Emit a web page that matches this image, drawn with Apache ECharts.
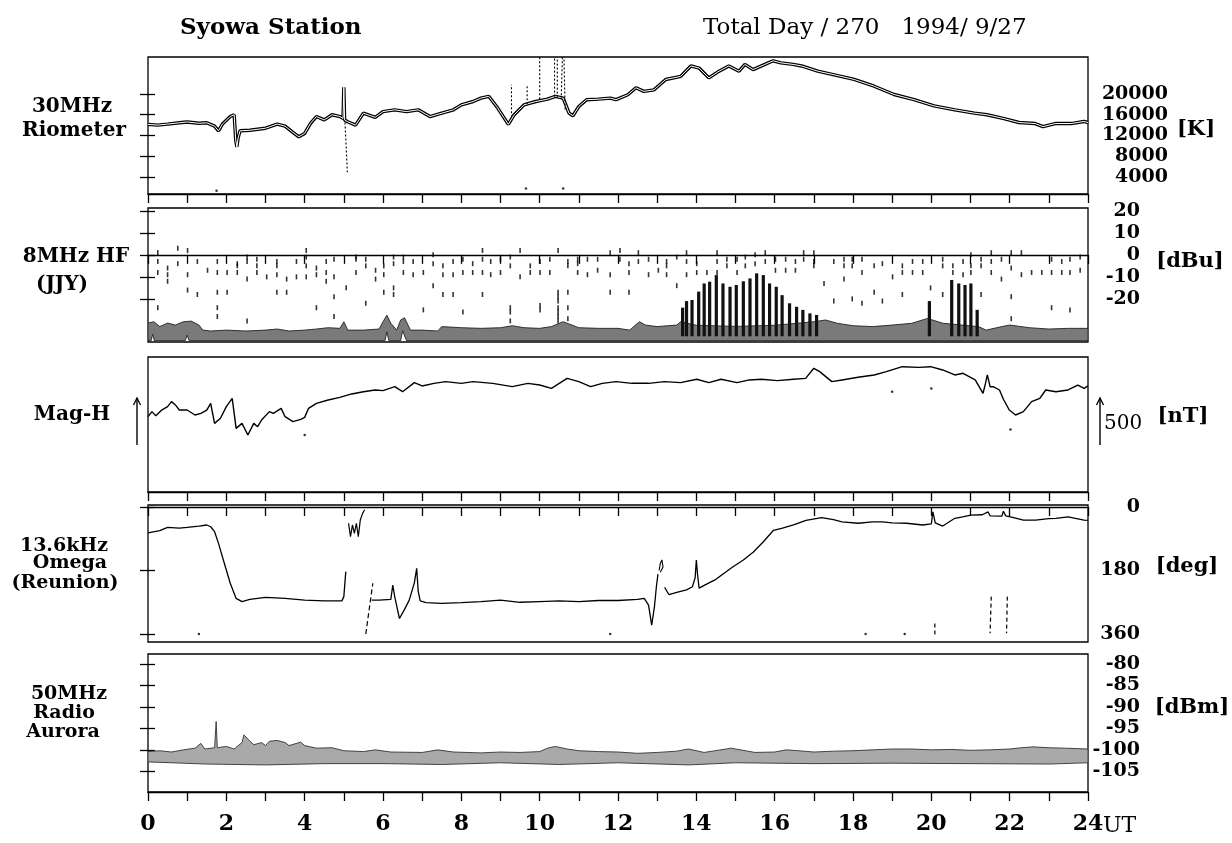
<!DOCTYPE html>
<html><head><meta charset="utf-8">
<script src="https://cdn.jsdelivr.net/npm/echarts@6/dist/echarts.min.js"></script>
<style>html,body{margin:0;padding:0;background:#fff}#c{width:1232px;height:843px}</style>
</head><body><div id="c"></div>
<script>
// ---------------- DATA ----------------
const xLabelHours = [0,2,4,6,8,10,12,14,16,18,20,22,24];

// 30MHz Riometer [UT hour, K]
const rioTrace = [[0,14150],[0.25,14000],[0.5,14200],[0.8,14450],[1.0,14600],[1.3,14350],[1.5,14450],[1.7,13800],[1.8,12900],[1.9,14200],[2.1,15650],[2.2,16000],[2.24,11100],[2.27,9800],[2.3,11500],[2.35,12900],[2.6,13000],[3.0,13400],[3.3,14200],[3.5,13800],[3.7,12600],[3.85,11750],[4.0,12400],[4.15,14350],[4.3,15650],[4.5,15000],[4.7,16000],[4.9,15650],[4.98,15300],[5.0,21300],[5.02,15000],[5.1,14650],[5.3,14000],[5.5,16300],[5.8,15500],[6.0,16600],[6.3,16950],[6.6,16600],[6.9,16950],[7.2,15650],[7.5,16300],[7.8,16950],[8.0,17900],[8.3,18550],[8.5,19200],[8.7,19550],[8.9,17600],[9.1,15300],[9.2,14150],[9.35,16000],[9.6,17900],[9.9,18550],[10.2,19000],[10.4,19550],[10.6,19200],[10.75,16300],[10.85,15800],[11.0,17600],[11.2,18900],[11.5,19000],[11.8,19200],[11.95,18900],[12.25,19850],[12.46,21200],[12.66,20500],[12.92,20800],[13.22,22800],[13.6,23400],[13.86,25400],[14.07,25000],[14.32,23100],[14.58,24400],[14.83,25400],[15.09,24400],[15.24,25700],[15.45,24700],[15.75,25700],[15.96,26400],[16.16,26000],[16.47,25700],[16.69,25400],[17.1,24400],[17.52,23700],[18.03,22800],[18.54,21500],[19.05,19900],[19.56,18900],[20.07,17700],[20.6,16950],[21.1,16300],[21.42,16000],[21.83,15300],[22.24,14500],[22.65,14300],[22.85,13700],[23.16,14300],[23.57,14300],[23.9,14700],[24,14500]];
const rioSpikes = [[5.03,14500,5.09,4900],[9.28,15500,9.28,21800],[9.68,18000,9.68,21500],[10.0,19000,10.0,27100],[10.38,19500,10.38,27100],[10.45,19300,10.45,27100],[10.55,19000,10.58,27100],[10.65,17000,10.62,27100]];
const rioDots = [[1.75,1350],[9.65,1800],[10.6,1800]];
const rioTicks = [4000,8000,12000,16000,20000];

// 8MHz HF (JJY) [UT hour, dBu]
const hfBandTop = [[0,-31],[0.15,-30.4],[0.3,-32.6],[0.5,-31],[0.7,-31.9],[0.9,-30.4],[1.1,-30.1],[1.3,-31.9],[1.4,-34.2],[1.6,-34.6],[2.0,-34.2],[2.5,-34.6],[3.0,-34.2],[3.3,-33.7],[3.6,-34.6],[4.0,-34.2],[4.3,-33.7],[4.6,-33.1],[4.9,-33.4],[5.0,-30.4],[5.1,-34.2],[5.5,-34.2],[5.9,-33.7],[6.0,-30.4],[6.1,-27.4],[6.2,-31.1],[6.35,-34.2],[6.45,-29.6],[6.55,-28.6],[6.7,-34.2],[7.0,-34.2],[7.4,-34.6],[7.5,-32.6],[8.0,-33.1],[8.5,-33.4],[9.0,-33.1],[9.3,-32.2],[9.6,-33.1],[10.0,-33.4],[10.3,-32.6],[10.6,-30.4],[11.0,-33.1],[11.5,-33.4],[12.0,-33.4],[12.3,-34.2],[12.4,-32.6],[12.55,-30.4],[12.7,-31.9],[13.0,-32.6],[13.5,-31.9],[13.6,-30.4],[14.0,-32],[15.0,-32.5],[16.0,-32],[17.0,-30.4],[17.3,-29.6],[17.6,-31.1],[18.0,-32.2],[18.5,-32.6],[19.0,-31.9],[19.5,-31.1],[19.9,-28.9],[20.3,-31.1],[21.2,-32.6],[21.4,-34.2],[21.8,-32.6],[22.0,-31.9],[22.5,-33.1],[23.0,-33.7],[23.5,-33.4],[24,-33.4]];
const hfBandBottom = [[0,-39],[0.08,-39],[0.12,-36],[0.16,-39],[0.95,-39],[1.0,-36.5],[1.05,-39],[6.05,-39],[6.1,-35],[6.15,-39],[6.45,-39],[6.5,-34.5],[6.6,-39],[24,-39]];
const hfBursts = [[13.65,-24],[13.75,-21],[13.89,-20.5],[14.06,-16.7],[14.2,-13],[14.34,-12.2],[14.51,-9.2],[14.68,-13],[14.86,-14.5],[15.02,-13.7],[15.2,-12],[15.37,-10.7],[15.54,-8.4],[15.71,-9.2],[15.87,-13],[16.04,-14.5],[16.19,-18.3],[16.38,-22],[16.56,-23.6],[16.72,-25],[16.9,-26.6],[17.07,-27.3],[19.95,-21],[20.52,-11.4],[20.7,-13],[20.86,-13.7],[21.01,-13],[21.17,-25]];
const hfBurstBase = -37;
const hfDashCols = [[0.25,[1,-3,-8,-24]],[0.5,[-6,-9,-12]],[0.76,[3,-4]],[1.01,[2,-9,-16]],[1.26,[-3,-18]],[1.52,[-7]],[1.77,[-3,-8,-17,-24,-28]],[2.02,[-8,-17]],[2.28,[-4,-5,-8]],[2.53,[-1,-3,-11,-30]],[2.78,[-2,-5,-8]],[3.03,[-10]],[3.29,[-3,-5,-9,-17]],[3.54,[-11,-17]],[3.79,[-3,-10]],[4.04,[2,-1,-5,-10]],[4.3,[-6,-9,-24]],[4.55,[-3,-8,-12]],[4.75,[-2,-10,-19,-28]],[5.06,[-15]],[5.31,[-1,-2,-8]],[5.56,[-2,-5,-22]],[5.81,[-7,-11]],[6.02,[-5,-9,-17]],[6.27,[-1,-4,-15,-18]],[6.52,[-1,-3,-8]],[6.77,[-3,-9]],[7.03,[-8,-25]],[7.28,[0,-4,-14]],[7.53,[-5,-9,-18]],[7.79,[-3,-9,-18]],[8.04,[-2,-8,-26]],[8.29,[-4,-8]],[8.54,[2,-2,-8,-18]],[8.75,[-3,-9]],[9.0,[-2,-8]],[9.25,[-1,-5,-24,-26,-30]],[9.5,[2,-10]],[9.76,[-5,-8]],[10.01,[-3,-8,-23,-25]],[10.26,[-2,-8]],[10.47,[2,-17,-19,-21,-24,-26,-28,-30]],[10.72,[-3,-5,-17,-24,-29]],[10.97,[-2,-4,-8]],[11.22,[-2,-9]],[11.48,[-2,-7]],[11.8,[1,-9,-17]],[12.05,[2,-2]],[12.28,[-4,-8,-17]],[12.52,[1,-3]],[12.78,[-2,-9]],[13.03,[-7]],[13.24,[-3,-5,-9]],[13.5,[-1,-14]],[13.75,[1,-3,-9]],[14.01,[-4,-8]],[14.27,[-8]],[14.53,[1,-3,-8]],[14.78,[-2,-5]],[15.04,[-2,-8]],[15.25,[-1,-5]],[15.5,[0,-4]],[15.76,[1,-3]],[16.02,[-2,-7]],[16.28,[-2,-7]],[16.53,[-3,-7]],[16.74,[1,-2]],[17.0,[1,-3,-5]],[17.26,[-13]],[17.51,[-3,-21]],[17.77,[-2,-5,-11]],[17.98,[-2,-5,-20]],[18.23,[-2,-8,-22]],[18.54,[-5,-17]],[18.75,[-4,-21]],[19.01,[-10]],[19.26,[-5,-8,-18]],[19.52,[-3,-8]],[19.78,[-3,-8]],[19.98,[-15]],[20.29,[-2,-5,-18]],[20.55,[-5,-8]],[20.81,[-3,-9]],[21.01,[0,-5,-8]],[21.27,[-2,-5,-18]],[21.53,[1,-3,-8]],[21.79,[-2,-11]],[22.04,[1,-6,-19,-29]],[22.3,[1,-9]],[22.56,[-8]],[22.82,[-8]],[23.07,[-2,-8,-24]],[23.33,[-3,-8]],[23.54,[-2,-8,-25]],[23.8,[-1,-7]]];
const hfTicks = [-20,-10,0,10,20];

// Mag-H [UT hour, nT relative]
const magTrace = [[0,801],[0.1,855],[0.2,810],[0.35,872],[0.5,908],[0.6,961],[0.7,926],[0.8,872],[1.0,872],[1.2,819],[1.35,837],[1.5,872],[1.6,943],[1.7,730],[1.85,784],[2.0,908],[2.15,996],[2.2,979],[2.25,677],[2.4,730],[2.55,606],[2.7,730],[2.8,695],[2.9,766],[3.1,855],[3.2,837],[3.4,890],[3.5,801],[3.7,748],[3.9,773],[4.0,794],[4.1,890],[4.3,943],[4.6,979],[4.9,1007],[5.2,1043],[5.5,1067],[5.8,1085],[6.0,1078],[6.3,1121],[6.5,1067],[6.8,1163],[7.0,1128],[7.3,1156],[7.6,1174],[8.0,1156],[8.3,1174],[8.8,1156],[9.3,1121],[9.7,1156],[10.0,1138],[10.3,1103],[10.7,1209],[11.0,1174],[11.3,1121],[11.6,1156],[11.95,1174],[12.36,1156],[12.78,1156],[13.19,1174],[13.6,1163],[14.01,1199],[14.32,1163],[14.63,1199],[15.04,1163],[15.35,1192],[15.66,1199],[16.07,1185],[16.48,1199],[16.79,1209],[17.0,1316],[17.15,1280],[17.46,1174],[17.72,1192],[18.13,1220],[18.54,1245],[18.85,1280],[19.26,1333],[19.68,1326],[19.98,1333],[20.29,1298],[20.6,1245],[20.81,1263],[21.12,1192],[21.25,1100],[21.32,1050],[21.38,1150],[21.43,1245],[21.5,1120],[21.58,1121],[21.74,1085],[21.84,987],[21.99,872],[22.15,819],[22.35,855],[22.56,961],[22.77,996],[22.92,1085],[23.18,1067],[23.49,1085],[23.74,1138],[23.9,1103],[24,1128]];
const magDots = [[4.0,606],[19.0,1067],[20.0,1100],[22.02,666]];
const magScaleBar = [500,1000];

// 13.6kHz Omega (Reunion) [UT hour, deg]
const omegaA = [[0,73],[0.3,67],[0.5,58],[0.8,60],[1.0,58],[1.3,54],[1.5,51],[1.6,56],[1.7,70],[1.8,103],[1.95,160],[2.1,216],[2.25,259],[2.4,268],[2.6,262],[3.0,256],[3.5,259],[4.0,264],[4.5,266],[4.95,266],[5.0,254],[5.05,183]];
const omegaW = [[5.12,46],[5.17,84],[5.22,51],[5.27,75],[5.32,46],[5.37,84],[5.42,37],[5.48,18],[5.53,8]];
const omegaDash = [[5.56,360],[5.74,216]];
const omegaB = [[5.71,264],[5.9,264],[6.2,262],[6.25,221],[6.3,255],[6.42,316],[6.55,290],[6.67,264],[6.8,215],[6.86,174],[6.9,240],[6.95,266],[7.1,271],[7.5,273],[8.0,271],[8.5,268],[9.0,264],[9.5,270],[10.0,268],[10.5,266],[11.0,268],[11.5,265],[12.0,265],[12.5,262],[12.67,259],[12.78,278],[12.86,335],[12.93,283],[12.98,226],[13.02,190]];
const omegaLoop = [[13.05,180],[13.08,160],[13.12,150],[13.15,170],[13.08,185]];
const omegaD = [[13.19,228],[13.3,248],[13.5,242],[13.75,235],[13.9,226],[13.97,200],[14.0,150],[14.03,190],[14.07,230],[14.2,222],[14.5,205],[14.9,172],[15.2,150],[15.45,128],[15.7,100],[15.97,66],[16.2,60],[16.5,50],[16.8,38],[17.2,30],[17.5,36],[17.72,42],[18.13,46],[18.5,42],[18.75,42],[19.0,45],[19.37,46],[19.78,51],[20.0,48],[20.04,14],[20.1,45],[20.29,54],[20.6,32],[20.8,28],[21.01,23],[21.3,22],[21.45,14],[21.5,25],[21.8,26],[21.84,12],[21.9,25],[22.1,30],[22.35,37],[22.66,37],[23.0,33],[23.18,32],[23.49,28],[23.9,37],[24,38]];
const omegaSpikes = [[20.09,330,20.09,363],[21.53,254,21.5,358],[21.94,254,21.92,358]];
const omegaDots = [[1.3,360],[11.8,360],[18.32,360],[19.32,360]];
const omegaTicks = [0,180,360];

// 50MHz Radio Aurora [UT hour, dBm]
const auroraTop = [[0,-100.4],[0.3,-100.2],[0.6,-100.5],[0.9,-100],[1.2,-99.6],[1.35,-98.5],[1.45,-99.8],[1.7,-99.5],[1.74,-93.4],[1.77,-99.5],[2.0,-99.2],[2.2,-99.8],[2.4,-98.3],[2.45,-96.5],[2.55,-97.5],[2.7,-98.8],[2.9,-98.3],[3.0,-99],[3.1,-98],[3.3,-97.8],[3.5,-98.3],[3.6,-99],[3.9,-98.2],[4.0,-99],[4.3,-99.6],[4.7,-99.5],[5.0,-100.2],[5.5,-100.4],[5.8,-100],[6.2,-100.5],[7.0,-100.6],[7.4,-100],[7.8,-100.5],[8.5,-100.7],[9.0,-100.5],[9.5,-100.6],[10.0,-100.4],[10.2,-99.6],[10.4,-99.2],[10.7,-99.8],[11.0,-100.2],[11.5,-100.4],[12.0,-100.5],[12.5,-100.8],[13.0,-100.6],[13.5,-100.3],[13.8,-99.8],[14.2,-100.6],[14.9,-99.6],[15.0,-99.8],[15.5,-100.6],[16.0,-100.5],[16.3,-100],[16.6,-100.2],[17.0,-100.5],[17.5,-100.3],[18.0,-100.2],[18.5,-100],[19.0,-99.8],[19.5,-99.8],[20.0,-100],[20.5,-99.9],[21.0,-100.1],[21.5,-100],[22.0,-99.8],[22.3,-99.5],[22.6,-99.3],[23.0,-99.5],[23.4,-99.6],[24,-99.8]];
const auroraBottom = [[0,-102.8],[1.5,-103.3],[3.0,-103.5],[4.5,-103.2],[6.0,-103.2],[7.5,-103.4],[9.0,-103],[10.5,-103.4],[12.0,-103],[13.8,-103.5],[15.0,-103],[17.0,-103.2],[19.0,-103.1],[21.0,-103.2],[23.0,-103.3],[24,-103]];
const auroraTicks = [-80,-85,-90,-95,-100,-105];

// ---------------- LAYOUT / STYLE ----------------
const FONT = '"DejaVu Serif", "Liberation Serif", serif';
const LEFT = 148, RIGHT = 1088;
const panels = [
  {top:57, height:137, min:720, max:27130, inverse:false, ticks:rioTicks, margin:80},
  {top:208, height:134, min:-39.6, max:21.3, inverse:false, ticks:hfTicks, margin:52},
  {top:357, height:135, min:0, max:1436, inverse:false, ticks:null, margin:52},
  {top:505, height:137, min:-5.7, max:382.6, inverse:true, ticks:omegaTicks, margin:52},
  {top:654, height:138, min:-109.8, max:-77.7, inverse:false, ticks:auroraTicks, margin:52}
];
const black = '#000';

const grid = [], xAxis = [], yAxis = [];
panels.forEach((p, i) => {
  grid.push({left: LEFT, width: RIGHT - LEFT, top: p.top, height: p.height, show: true,
    borderColor: black, borderWidth: 1.3, backgroundColor: 'transparent'});
  xAxis.push({gridIndex: i, type: 'value', min: 0, max: 24, interval: 1,
    axisLine: {show: true, lineStyle: {color: black, width: 1.3}},
    axisTick: {show: true, inside: false, length: 9, lineStyle: {color: black, width: 1.3}},
    splitLine: {show: false},
    axisLabel: {show: i === 4, margin: 21, color: black, fontFamily: FONT, fontWeight: 'bold', fontSize: 22,
      formatter: v => xLabelHours.indexOf(v) >= 0 ? String(v) : ''}
  });
  const base = {gridIndex: i, type: 'value', min: p.min, max: p.max, inverse: p.inverse,
    axisLine: {show: false}, splitLine: {show: false}};
  yAxis.push(Object.assign({}, base, {position: 'right',
    axisTick: {show: !!p.ticks, customValues: p.ticks || undefined, inside: false, length: 7, lineStyle: {color: black, width: 1.3}},
    axisLabel: {show: !!p.ticks, customValues: p.ticks || undefined, align: 'right', margin: p.margin, color: black,
      fontFamily: FONT, fontWeight: 'bold', fontSize: 19, formatter: v => String(v)}
  }));
  yAxis.push(Object.assign({}, base, {position: 'left',
    axisTick: {show: !!p.ticks, customValues: p.ticks || undefined, inside: false, length: 8, lineStyle: {color: black, width: 1.3}},
    axisLabel: {show: false}
  }));
});

function segRender(dash, w) {
  return function (params, api) {
    const a = api.coord([api.value(0), api.value(1)]);
    const b = api.coord([api.value(2), api.value(3)]);
    return {type: 'line', shape: {x1: a[0], y1: a[1], x2: b[0], y2: b[1]},
      style: {stroke: black, lineWidth: w, lineDash: dash}};
  };
}
function bandRender(top, bottom, fill, stroke) {
  return function (params, api) {
    const pts = top.map(p => api.coord(p)).concat(bottom.slice().reverse().map(p => api.coord(p)));
    return {type: 'polygon', shape: {points: pts}, style: {fill: fill, stroke: stroke, lineWidth: 0.9}};
  };
}
function lineS(gi, data, width, color, z, dash) {
  return {type: 'line', xAxisIndex: gi, yAxisIndex: gi * 2, data: data, showSymbol: false, symbol: 'none',
    lineStyle: {color: color || black, width: width, type: dash || 'solid'}, z: z || 3, silent: true, clip: true};
}
function dotS(gi, data, size) {
  return {type: 'scatter', xAxisIndex: gi, yAxisIndex: gi * 2, data: data, symbol: 'circle', symbolSize: size || 2.5,
    itemStyle: {color: black}, silent: true, z: 4};
}

const hfDashes = [];
hfDashCols.forEach(c => c[1].forEach(v => hfDashes.push([c[0], v])));

const series = [
  // Riometer
  lineS(0, rioTrace, 3.4, black, 3),
  lineS(0, rioTrace, 1.0, '#fff', 4),
  {type: 'custom', xAxisIndex: 0, yAxisIndex: 0, data: rioSpikes, renderItem: segRender([2, 2], 1.1), clip: true, silent: true, z: 5},
  dotS(0, rioDots, 2.5),
  // HF
  {type: 'custom', xAxisIndex: 1, yAxisIndex: 2, data: [[0, 0]], renderItem: bandRender(hfBandTop, hfBandBottom, '#7a7a7a', '#222'), clip: true, silent: true, z: 2},
  {type: 'custom', xAxisIndex: 1, yAxisIndex: 2, data: hfBursts, clip: true, silent: true, z: 3,
    renderItem: function (params, api) {
      const a = api.coord([api.value(0), hfBurstBase]);
      const b = api.coord([api.value(0), api.value(1)]);
      return {type: 'rect', shape: {x: a[0] - 1.6, y: b[1], width: 3.2, height: a[1] - b[1]}, style: {fill: '#111'}};
    }},
  {type: 'scatter', xAxisIndex: 1, yAxisIndex: 2, data: hfDashes, symbol: 'rect', symbolSize: [1.6, 5],
    itemStyle: {color: black}, silent: true, z: 4},
  // Mag
  lineS(2, magTrace, 1.4, black, 3),
  dotS(2, magDots, 2.5),
  // Omega
  lineS(3, omegaA, 1.3),
  lineS(3, omegaW, 1.2),
  lineS(3, omegaDash, 1.2, black, 3, [5, 3]),
  lineS(3, omegaB, 1.3),
  lineS(3, omegaLoop, 1.1),
  lineS(3, omegaD, 1.3),
  {type: 'custom', xAxisIndex: 3, yAxisIndex: 6, data: omegaSpikes, renderItem: segRender([4, 3], 1.2), clip: true, silent: true, z: 5},
  dotS(3, omegaDots, 2.5),
  // Aurora
  {type: 'custom', xAxisIndex: 4, yAxisIndex: 8, data: [[0, 0]], renderItem: bandRender(auroraTop, auroraBottom, '#a9a9a9', '#333'), clip: true, silent: true, z: 2}
];

function txt(x, y, s, opt) {
  return {type: 'text', x: x, y: y, silent: true,
    style: Object.assign({text: s, fill: black, font: 'bold 20px ' + FONT, textAlign: 'center', textVerticalAlign: 'middle'}, opt || {})};
}
const labelTexts = [
  txt(180, 28, 'Syowa Station', {font: 'bold 23px ' + FONT, textAlign: 'left'}),
  txt(703, 28, 'Total Day / 270   1994/ 9/27', {font: '23px ' + FONT, textAlign: 'left'}),
  txt(72, 107, '30MHz'), txt(74, 131, 'Riometer'),
  txt(76, 257, '8MHz HF'), txt(62, 285, '(JJY)'),
  txt(72, 415, 'Mag-H'),
  txt(64, 546, '13.6kHz', {font: 'bold 19px ' + FONT}), txt(70, 563, 'Omega', {font: 'bold 19px ' + FONT}), txt(65, 583, '(Reunion)', {font: 'bold 19px ' + FONT}),
  txt(69, 694, '50MHz', {font: 'bold 19px ' + FONT}), txt(64, 713, 'Radio', {font: 'bold 19px ' + FONT}), txt(63, 732, 'Aurora', {font: 'bold 19px ' + FONT}),
  txt(1196, 130, '[K]', {font: 'bold 21px ' + FONT}),
  txt(1190, 262, '[dBu]', {font: 'bold 21px ' + FONT}),
  txt(1183, 417, '[nT]', {font: 'bold 21px ' + FONT}),
  txt(1187, 567, '[deg]', {font: 'bold 21px ' + FONT}),
  txt(1192, 708, '[dBm]', {font: 'bold 21px ' + FONT})
];

const chart = echarts.init(document.getElementById('c'), null, {renderer: 'canvas'});
chart.setOption({animation: false, backgroundColor: '#fff', grid: grid, xAxis: xAxis, yAxis: yAxis, series: series, graphic: labelTexts});

// scale-bar arrows and UT label placed through the axes
const pA = chart.convertToPixel({xAxisIndex: 2, yAxisIndex: 4}, [0, magScaleBar[0]]);
const pB = chart.convertToPixel({xAxisIndex: 2, yAxisIndex: 4}, [24, magScaleBar[1]]);
const lx = pA[0] - 11, rx = pB[0] + 12, yb = pA[1], yt = pB[1];
function arrow(x) {
  return [
    {type: 'line', silent: true, shape: {x1: x, y1: yb, x2: x, y2: yt}, style: {stroke: black, lineWidth: 1.4}},
    {type: 'polyline', silent: true, shape: {points: [[x - 3.5, yt + 7], [x, yt], [x + 3.5, yt + 7]]}, style: {stroke: black, lineWidth: 1.3, fill: null}}
  ];
}
const ut = chart.convertToPixel({xAxisIndex: 4, yAxisIndex: 8}, [24, -109.8]);
chart.setOption({graphic: labelTexts.concat(arrow(lx), arrow(rx), [
  txt(rx + 4, (yb + yt) / 2 + 2, '500', {font: '20px ' + FONT, textAlign: 'left'}),
  txt(ut[0] + 15, 826, 'UT', {font: '22px ' + FONT, textAlign: 'left'})
])});
</script></body></html>
